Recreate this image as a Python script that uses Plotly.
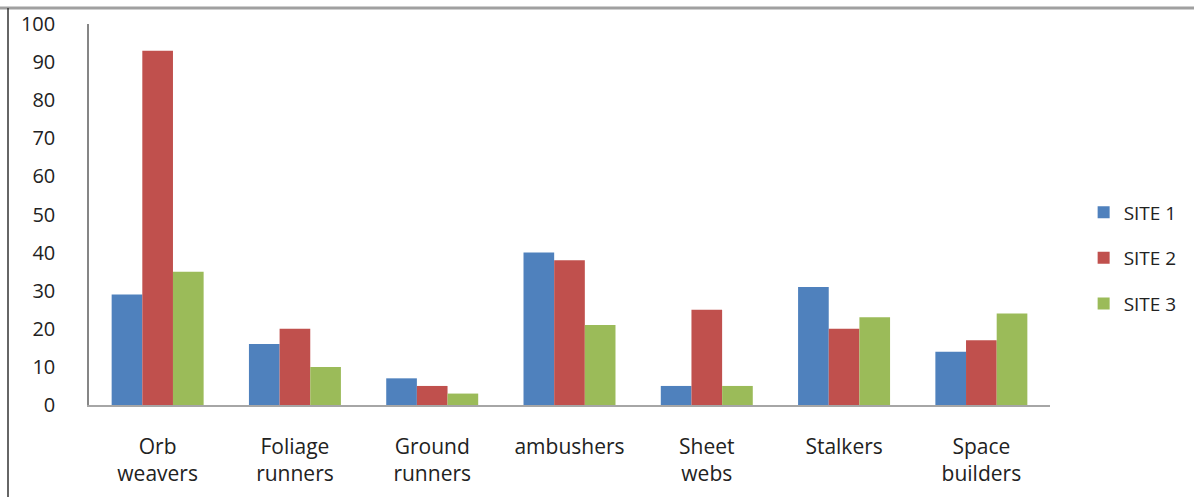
import plotly.graph_objects as go

categories = ["Orb<br>weavers", "Foliage<br>runners", "Ground<br>runners", "ambushers",
              "Sheet<br>webs", "Stalkers", "Space<br>builders"]
site1 = [29, 16, 7, 40, 5, 31, 14]
site2 = [93, 20, 5, 38, 25, 20, 17]
site3 = [35, 10, 3, 21, 5, 23, 24]
series_names = ["SITE 1", "SITE 2", "SITE 3"]
colors = ["#4F81BD", "#C0504D", "#9BBB59"]

W, H = 1194, 497
L, R, T, B = 89, 144, 24, 92

fig = go.Figure()
for name, vals, col in zip(series_names, [site1, site2, site3], colors):
    fig.add_trace(go.Bar(x=categories, y=vals, name=name, marker_color=col,
                         marker_line_width=0, legendgroup=name))

font_family = "Open Sans, Noto Sans, sans-serif"

fig.update_layout(
    width=W, height=H,
    margin=dict(l=L, r=R, t=T, b=B, pad=0, autoexpand=False),
    paper_bgcolor="white", plot_bgcolor="white",
    barmode="group", bargap=0.33, bargroupgap=0,
    showlegend=True,
    legend=dict(x=1.035, y=0.385, xanchor="left", yanchor="middle",
                font=dict(family=font_family, size=19, color="#222"),
                itemwidth=30, tracegroupgap=18, itemsizing="constant"),
    font=dict(family=font_family, color="#222"),
)

fig.update_yaxes(range=[0, 100], dtick=10, showgrid=False, zeroline=False,
                 showline=True, linecolor="#868686", linewidth=1.5,
                 ticks="outside", ticklen=28, tickcolor="rgba(0,0,0,0)",
                 automargin=False,
                 tickfont=dict(family=font_family, size=20, color="#222"))
fig.update_xaxes(showgrid=False, showline=True, linecolor="#A6A6A6", linewidth=1.5,
                 ticks="outside", ticklen=22, tickcolor="rgba(0,0,0,0)",
                 automargin=False,
                 tickfont=dict(family=font_family, size=21, color="#222"),
                 tickangle=0)

pw = W - L - R
ph = H - T - B
# outer frame lines (top and left edges of the chart box)
fig.add_shape(type="line", xref="paper", yref="paper",
              x0=(0 - L) / pw, x1=(W - L) / pw,
              y0=(H - B - 8) / ph, y1=(H - B - 8) / ph,
              line=dict(color="#A0A0A0", width=3))
fig.add_shape(type="line", xref="paper", yref="paper",
              x0=(8 - L) / pw, x1=(8 - L) / pw,
              y0=(H - B - 8) / ph, y1=(H - B - H) / ph,
              line=dict(color="#333333", width=1.5))

fig.write_html("out.html")
